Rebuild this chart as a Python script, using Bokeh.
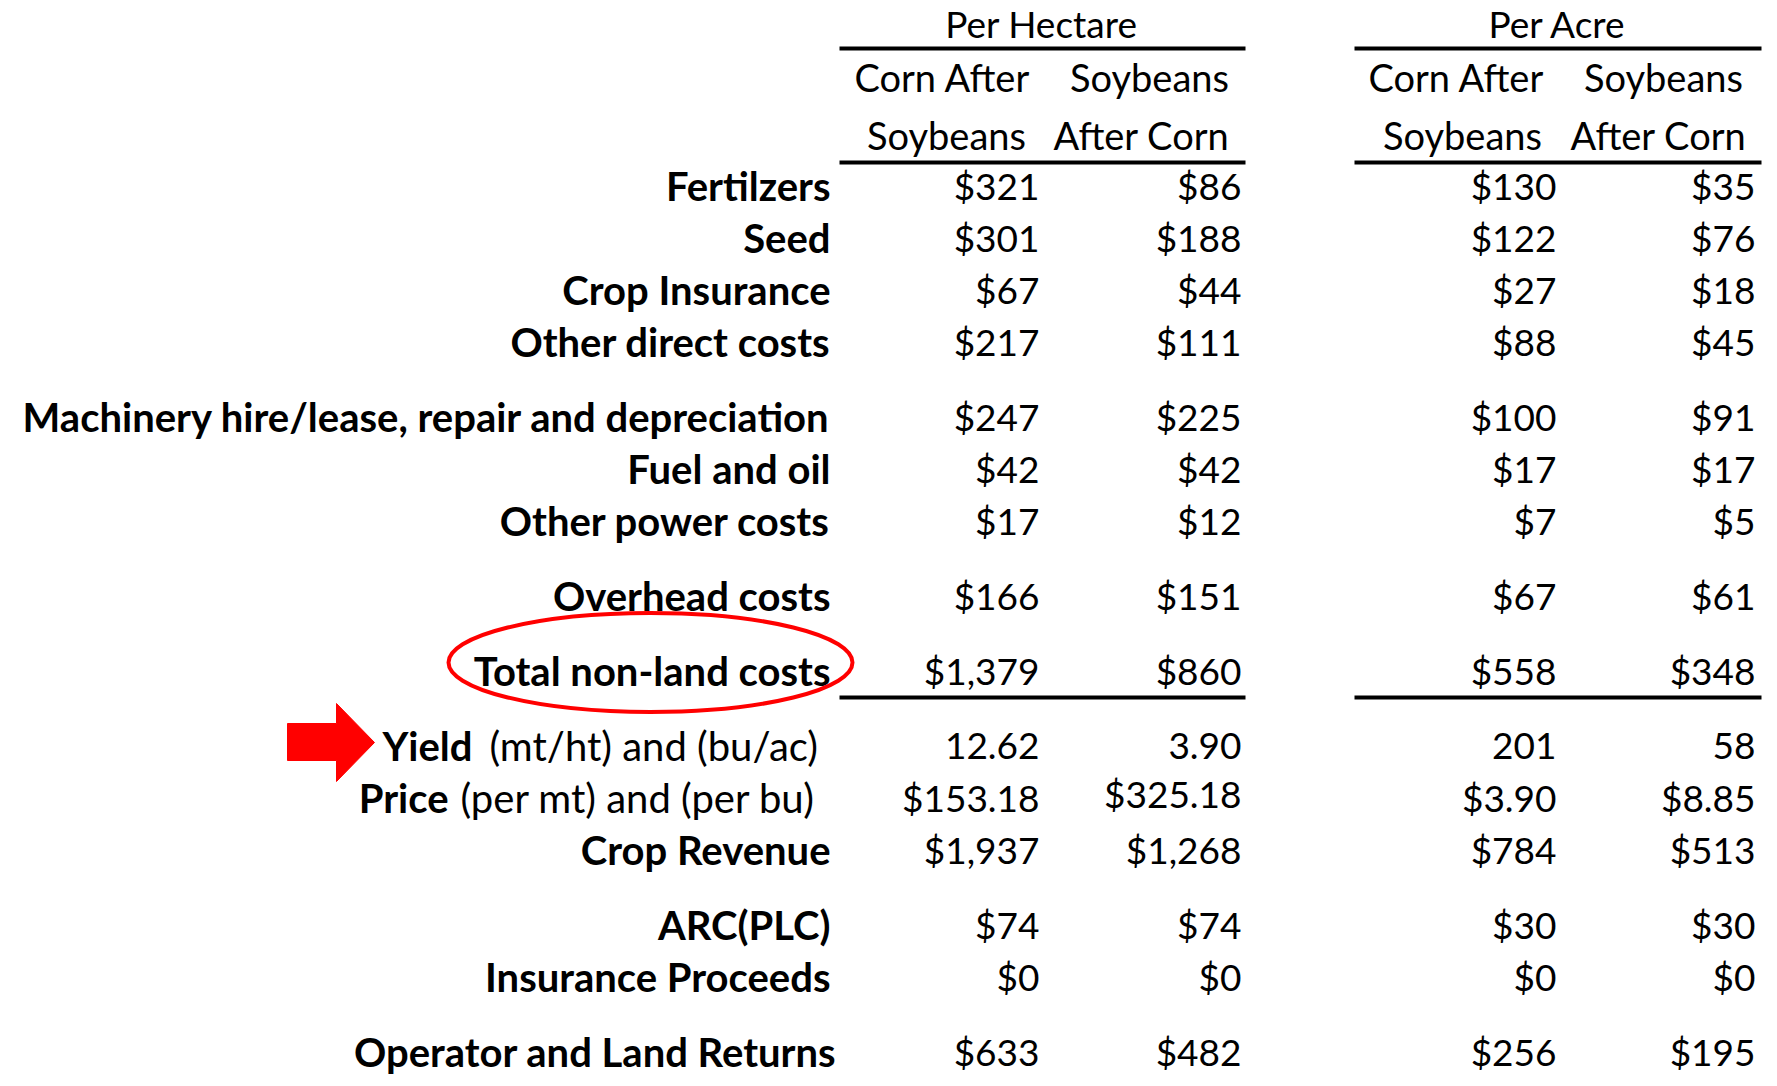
from bokeh.plotting import figure
from bokeh.models import ColumnDataSource, Range1d
from bokeh.core.properties import value
from bokeh.embed import file_html
from bokeh.resources import INLINE

# ---------------- data ----------------
group_titles = ["Per Hectare", "Per Acre"]
col_head_top = ["Corn After", "Soybeans", "Corn After", "Soybeans"]
col_head_bot = ["Soybeans", "After Corn", "Soybeans", "After Corn"]

row_labels = ["Fertilzers", "Seed", "Crop Insurance", "Other direct costs",
              "Machinery hire/lease, repair and depreciation", "Fuel and oil",
              "Other power costs", "Overhead costs", "Total non-land costs",
              "Yield", "Price", "Crop Revenue", "ARC(PLC)", "Insurance Proceeds",
              "Operator and Land Returns"]
row_units = {"Yield": "(mt/ht) and (bu/ac)", "Price": "(per mt) and (per bu)"}

corn_ha = [321, 301, 67, 217, 247, 42, 17, 166, 1379, 12.62, 153.18, 1937, 74, 0, 633]
soy_ha = [86, 188, 44, 111, 225, 42, 12, 151, 860, 3.90, 325.18, 1268, 74, 0, 482]
corn_ac = [130, 122, 27, 88, 100, 17, 7, 67, 558, 201, 3.90, 784, 30, 0, 256]
soy_ac = [35, 76, 18, 45, 91, 17, 5, 61, 348, 58, 8.85, 513, 30, 0, 195]

kinds_ha = ["money0"] * 9 + ["num2", "money2"] + ["money0"] * 4
kinds_ac = ["money0"] * 9 + ["num0", "money2"] + ["money0"] * 4

# ---------------- layout (pixel positions, style only) ----------------
row_base = [199, 251, 303, 355, 430, 482, 534, 609, 684, 759, 811, 863, 938, 990, 1065]
col_right = [1039, 1241, 1556, 1755]
col_center_top = [942, 1149, 1456, 1663]
col_center_bot = [946, 1141, 1462, 1658]
group_center = [1041, 1557]
group_span = [(839, 1245), (1354, 1761)]
label_right = 830

FONT = value("Lato")
FS_VAL, FS_HEAD, FS_TITLE, FS_LAB, FS_UNIT = 37, 38, 37, 40, 40
SHIFT = {"val": 14, "head": 15, "lab": 14, "unit": 14}  # bokeh baseline correction (px)


def fmt(v, kind):
    if kind == "money0":
        return "${:,.0f}".format(v)
    if kind == "money2":
        return "${:,.2f}".format(v)
    if kind == "num2":
        return "{:.2f}".format(v)
    return "{:.0f}".format(v)


W, H = 1777, 1086
p = figure(width=W, height=H, output_backend="svg", toolbar_location=None,
           x_range=Range1d(0, W), y_range=Range1d(H, 0),
           min_border=0, outline_line_color=None, background_fill_color="white",
           border_fill_color="white")
p.axis.visible = False
p.grid.visible = False


def txt(xs, ys, texts, size, kind, bold=False, align="right"):
    src = ColumnDataSource(dict(x=list(xs), y=[y - SHIFT[kind] for y in ys],
                                t=list(texts)))
    p.text(x="x", y="y", text="t", source=src, text_font=FONT,
           text_font_size="%dpx" % size,
           text_font_style="bold" if bold else "normal", text_align=align,
           text_baseline="alphabetic", text_color="black")


# group titles and column headers
txt(group_center, [38, 38], group_titles, FS_TITLE, "head", align="center")
txt(col_center_top, [91] * 4, col_head_top, FS_HEAD, "head", align="center")
txt(col_center_bot, [149] * 4, col_head_bot, FS_HEAD, "head", align="center")

# rule lines
x0s, x1s, ys = [], [], []
for (a, b) in group_span:
    for yy in (48, 162, 697):
        x0s.append(a); x1s.append(b); ys.append(yy)
p.segment(x0=x0s, y0=ys, x1=x1s, y1=ys, line_color="black", line_width=4,
          line_cap="butt")

# row labels (bold)
plain_rows = [(l, y) for l, y in zip(row_labels, row_base) if l not in row_units]
lab_x = [836 if l.startswith("Operator") else label_right for l, _ in plain_rows]
txt(lab_x, [y for _, y in plain_rows], [l for l, _ in plain_rows], FS_LAB, "lab", bold=True)

# mixed rows: bold word + normal units
mixed_bold_right = {"Yield": 472, "Price": 448}
mixed_unit_left = {"Yield": 489, "Price": 460}
for l, y in zip(row_labels, row_base):
    if l in row_units:
        txt([mixed_bold_right[l]], [y], [l], FS_LAB, "lab", bold=True)
        txt([mixed_unit_left[l]], [y], [row_units[l]], FS_UNIT, "unit", align="left")

# values
cols = [(corn_ha, kinds_ha), (soy_ha, kinds_ha), (corn_ac, kinds_ac), (soy_ac, kinds_ac)]
for ci, (vals, kinds) in enumerate(cols):
    yy = list(row_base)
    if ci == 1:
        yy[10] -= 4  # the soybean price per ha sits slightly higher
    txt([col_right[ci]] * len(vals), yy, [fmt(v, k) for v, k in zip(vals, kinds)],
        FS_VAL, "val")

# red ellipse highlight
p.ellipse(x=[650], y=[662], width=[404], height=[99], fill_color=None,
          line_color="#ff0000", line_width=4)

# red arrow
ax = [287, 336, 336, 374, 336, 336, 287]
ay = [723, 723, 703, 742, 781, 760, 760]
p.patch(ax, ay, fill_color="#ff0000", line_color="#ff0000", line_width=1)

open("out.html", "w").write(file_html(p, INLINE))
